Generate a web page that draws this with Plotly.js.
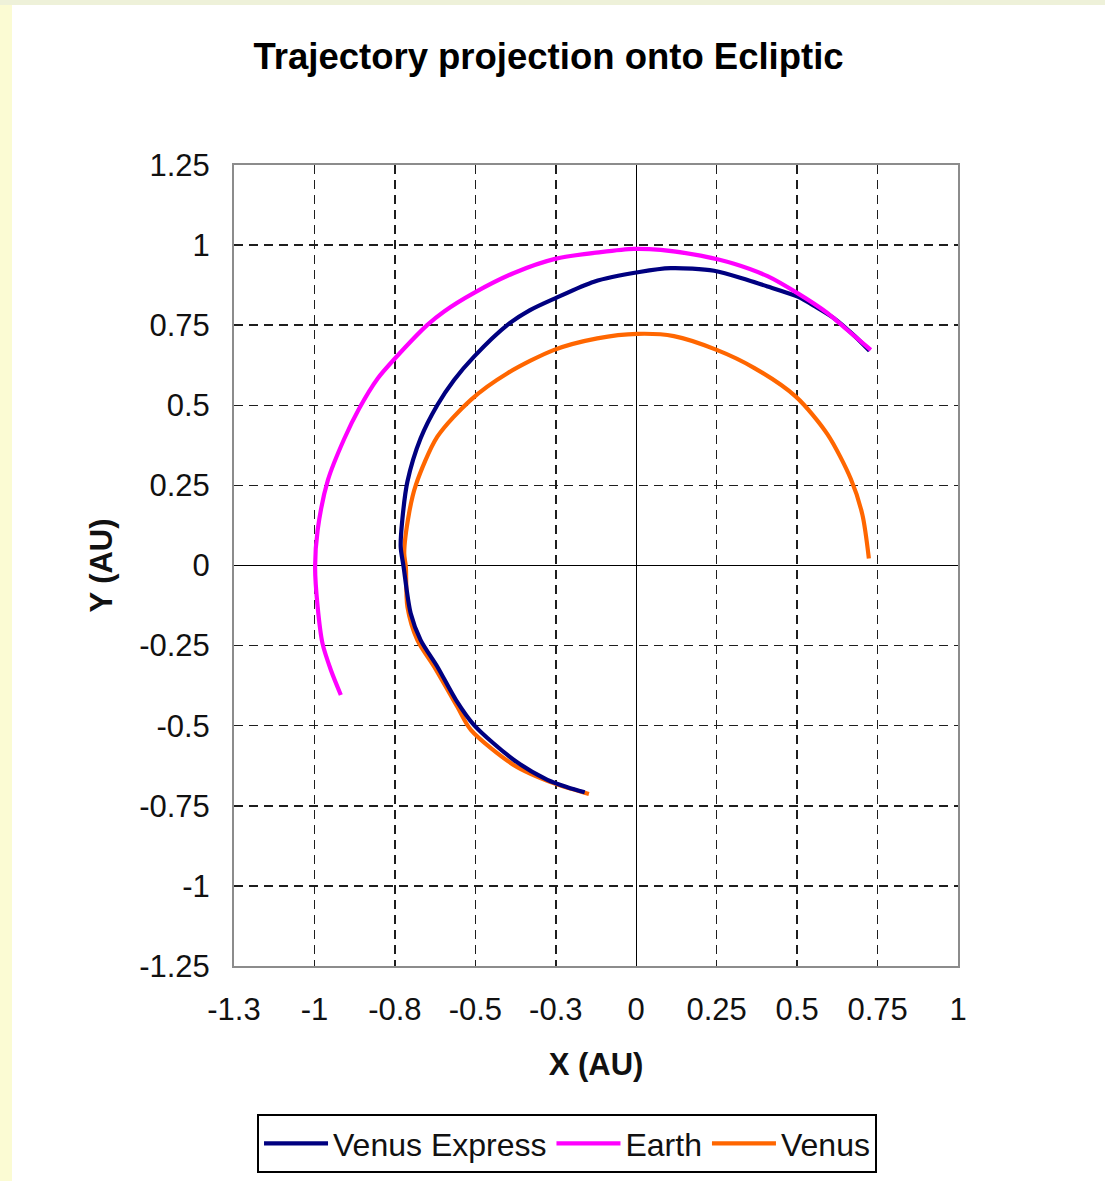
<!DOCTYPE html>
<html>
<head>
<meta charset="utf-8">
<script src="https://cdn.plot.ly/plotly-3.0.1.min.js"></script>
<style>
  html, body { margin: 0; padding: 0; }
  body { width: 1105px; height: 1181px; background: #fbfbd3; position: relative; overflow: hidden; }
  #topstrip { position: absolute; left: 0; top: 0; width: 1105px; height: 5px; background: #eef1d9; }
  #chart { position: absolute; left: 12px; top: 5px; width: 1093px; height: 1176px; background: #ffffff; }
</style>
</head>
<body>
<div id="topstrip"></div>
<div id="chart"></div>
<script>
// Heliocentric positions projected onto the ecliptic plane (AU)
const earthX = [0.729, 0.656, 0.594, 0.501, 0.408, 0.304, 0.200, 0.076, -0.007, -0.110, -0.252, -0.380, -0.504, -0.597, -0.649, -0.750, -0.804, -0.861, -0.908, -0.958, -0.990, -0.998, -0.990, -0.975, -0.949, -0.918];
const earthY = [0.673, 0.735, 0.788, 0.850, 0.903, 0.942, 0.967, 0.985, 0.988, 0.978, 0.957, 0.913, 0.851, 0.793, 0.751, 0.646, 0.583, 0.490, 0.394, 0.267, 0.111, -0.004, -0.129, -0.243, -0.326, -0.404];

const vexX = [0.725, 0.680, 0.614, 0.560, 0.502, 0.408, 0.346, 0.242, 0.107, 0.010, -0.131, -0.252, -0.330, -0.400, -0.504, -0.566, -0.618, -0.670, -0.711, -0.727, -0.732, -0.723, -0.701, -0.670, -0.618, -0.560, -0.504, -0.380, -0.276, -0.214, -0.160];
const vexY = [0.670, 0.715, 0.772, 0.806, 0.839, 0.871, 0.891, 0.920, 0.928, 0.916, 0.886, 0.834, 0.797, 0.751, 0.652, 0.579, 0.501, 0.397, 0.262, 0.142, 0.059, -0.004, -0.149, -0.233, -0.316, -0.420, -0.498, -0.607, -0.669, -0.692, -0.708];

const venusX = [-0.147, -0.255, -0.380, -0.514, -0.556, -0.628, -0.680, -0.711, -0.716, -0.721, -0.706, -0.685, -0.618, -0.514, -0.400, -0.255, -0.121, 0.004, 0.117, 0.250, 0.366, 0.496, 0.594, 0.667, 0.703, 0.723];
const venusY = [-0.713, -0.680, -0.623, -0.513, -0.441, -0.316, -0.233, -0.129, -0.004, 0.038, 0.163, 0.251, 0.402, 0.517, 0.600, 0.673, 0.709, 0.723, 0.716, 0.673, 0.617, 0.527, 0.410, 0.270, 0.158, 0.022];

const seriesNames = ['Venus Express', 'Earth', 'Venus'];
const seriesColors = ['#000080', '#ff00ff', '#ff6600'];

const xTickVals = [-1.25, -1, -0.75, -0.5, -0.25, 0, 0.25, 0.5, 0.75, 1];
const xTickText = ['-1.3', '-1', '-0.8', '-0.5', '-0.3', '0', '0.25', '0.5', '0.75', '1'];
const yTickVals = [1.25, 1, 0.75, 0.5, 0.25, 0, -0.25, -0.5, -0.75, -1, -1.25];
const yTickText = ['1.25', '1', '0.75', '0.5', '0.25', '0', '-0.25', '-0.5', '-0.75', '-1', '-1.25'];

const seriesX = [vexX, earthX, venusX];
const seriesY = [vexY, earthY, venusY];

const traces = seriesNames.map((name, i) => ({
  type: 'scatter',
  mode: 'lines',
  name: name,
  x: seriesX[i],
  y: seriesY[i],
  line: { color: seriesColors[i], width: 4.2, shape: 'spline', smoothing: 0.8 },
  hoverinfo: 'x+y+name'
}));
// Draw order: Venus underneath, then Venus Express, Earth on top
const plotOrder = [traces[2], traces[0], traces[1]];

const fontFamily = 'Arial, "Liberation Sans", Helvetica, sans-serif';

const axisCommon = {
  showline: true,
  mirror: true,
  linecolor: '#8c8c8c',
  linewidth: 2,
  showgrid: true,
  gridcolor: '#1e1e1e',
  gridwidth: 1.5,
  griddash: '9px,6px',
  zeroline: true,
  zerolinecolor: '#000000',
  zerolinewidth: 1.4,
  ticks: '',
  tickmode: 'array',
  tickfont: { family: fontFamily, size: 31, color: '#111111' },
  fixedrange: true
};

const layout = {
  width: 1093,
  height: 1176,
  paper_bgcolor: '#ffffff',
  plot_bgcolor: '#ffffff',
  margin: { l: 222, r: 147, t: 160, b: 215 },
  font: { family: fontFamily, color: '#111111' },
  title: {
    text: '<b>Trajectory projection onto Ecliptic</b>',
    font: { family: fontFamily, size: 36.5, color: '#000000' },
    xref: 'container', x: 0.4909, xanchor: 'center',
    yref: 'container', y: 0.9566, yanchor: 'middle'
  },
  xaxis: Object.assign({}, axisCommon, {
    range: [-1.25, 1],
    tickvals: xTickVals,
    ticktext: xTickText,
    ticklabelstandoff: 15,
    title: { text: '<b>X (AU)</b>', font: { family: fontFamily, size: 31, color: '#111111' }, standoff: 27 }
  }),
  yaxis: Object.assign({}, axisCommon, {
    range: [-1.25, 1.25],
    tickvals: yTickVals,
    ticktext: yTickText,
    ticklabelstandoff: 16,
    title: { text: '<b>Y (AU)</b>', font: { family: fontFamily, size: 31, color: '#111111' }, standoff: 17 }
  }),
  showlegend: true,
  legend: {
    orientation: 'h',
    traceorder: 'normal',
    xref: 'container', x: 0.5078, xanchor: 'center',
    yref: 'container', y: 0.0319, yanchor: 'middle',
    bgcolor: '#ffffff',
    bordercolor: '#000000',
    borderwidth: 2,
    itemwidth: 64,
    font: { family: fontFamily, size: 32, color: '#111111' }
  }
};

// Legend order follows seriesNames; plotting order puts Earth on top
plotOrder.forEach(t => { t.legendrank = seriesNames.indexOf(t.name) + 1; });

Plotly.newPlot('chart', plotOrder, layout, { displayModeBar: false, staticPlot: true });
</script>
</body>
</html>
